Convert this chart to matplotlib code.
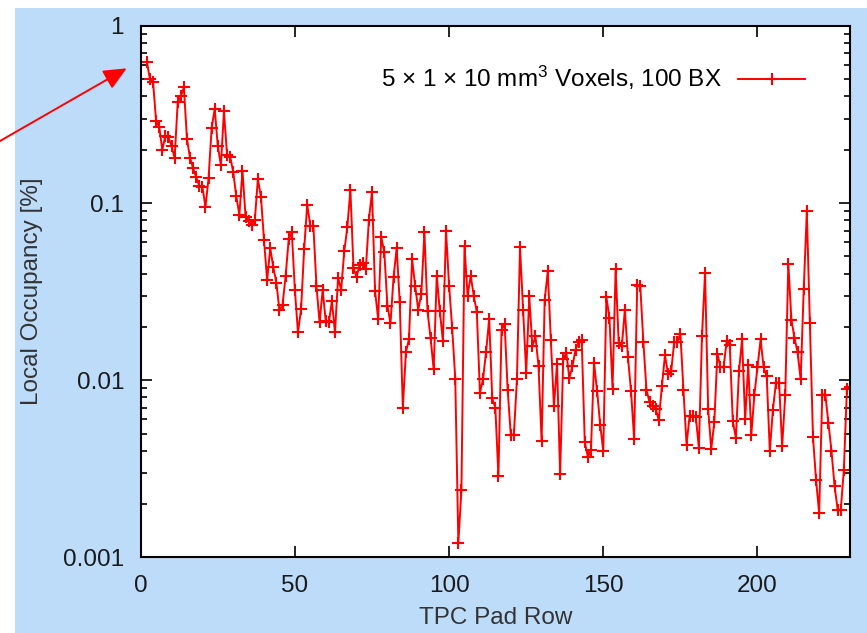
import numpy as np
import matplotlib
matplotlib.use("Agg")
import matplotlib.pyplot as plt
from matplotlib.ticker import FixedLocator, FixedFormatter, LogLocator, NullFormatter
from matplotlib.patches import Rectangle

# Local occupancy per TPC pad row (in %), pad rows 2 .. 230
occupancy = [
    0.63, 0.50, 0.485, 0.29, 0.27, 0.20, 0.24, 0.235, 0.21, 0.18,          # 2-11
    0.37, 0.40, 0.45, 0.23, 0.18, 0.157, 0.14, 0.125, 0.124, 0.095,        # 12-21
    0.138, 0.265, 0.34, 0.21, 0.164, 0.33, 0.187, 0.183, 0.15, 0.109,      # 22-31
    0.086, 0.152, 0.084, 0.079, 0.075, 0.080, 0.137, 0.108, 0.0615, 0.0366,  # 32-41
    0.0557, 0.0435, 0.0354, 0.0248, 0.0267, 0.0389, 0.0627, 0.0683, 0.0322, 0.0186,  # 42-51
    0.0252, 0.055, 0.098, 0.0745, 0.074, 0.0339, 0.0212, 0.0324, 0.0216, 0.0212,  # 52-61
    0.0279, 0.0186, 0.0378, 0.0324, 0.0533, 0.073, 0.119, 0.043, 0.0383, 0.0449,  # 62-71
    0.0459, 0.0425, 0.0805, 0.116, 0.0317, 0.0222, 0.0643, 0.0527, 0.0264, 0.021,  # 72-81
    0.0383, 0.0557, 0.0275, 0.00698, 0.0144, 0.0171, 0.0483, 0.0342, 0.025, 0.0308,  # 82-91
    0.0683, 0.0245, 0.0173, 0.0115, 0.0389, 0.0245, 0.0166, 0.070, 0.0342, 0.0197,  # 92-101
    0.0102, 0.00121, 0.00239, 0.0574, 0.030, 0.0389, 0.030, 0.0242, 0.0085, 0.0101,  # 102-111
    0.0145, 0.0222, 0.0079, 0.00698, 0.00287, 0.0191, 0.0209, 0.00877, 0.00493, 0.00493,  # 112-121
    0.0101, 0.0565, 0.025, 0.011, 0.0297, 0.0155, 0.0177, 0.012, 0.00452, 0.0285,  # 122-131
    0.0411, 0.0168, 0.00713, 0.0124, 0.00294, 0.0131, 0.0143, 0.0103, 0.012, 0.0149,  # 132-141
    0.0164, 0.0169, 0.00447, 0.00369, 0.00402, 0.0125, 0.00867, 0.0056, 0.00397, 0.0295,  # 142-151
    0.0225, 0.00893, 0.0425, 0.0162, 0.0155, 0.025, 0.0135, 0.00867, 0.00467, 0.0346,  # 152-161
    0.0339, 0.0164, 0.00885, 0.0075, 0.00713, 0.00689, 0.00594, 0.00924, 0.0138, 0.0109,  # 162-171
    0.0112, 0.0164, 0.0164, 0.0183, 0.00877, 0.00433, 0.0063, 0.0063, 0.0062, 0.00415,  # 172-181
    0.0177, 0.0403, 0.0069, 0.00409, 0.0058, 0.0141, 0.0119, 0.0118, 0.0166, 0.0159,  # 182-191
    0.00586, 0.00472, 0.0112, 0.017, 0.006, 0.0122, 0.00493, 0.0083, 0.0118, 0.017,  # 192-201
    0.0118, 0.0105, 0.00397, 0.00683, 0.0097, 0.0097, 0.00424, 0.0082, 0.0455, 0.022,  # 202-211
    0.0173, 0.0144, 0.0101, 0.0327, 0.0897, 0.021, 0.00478, 0.00272, 0.00178, 0.0083,  # 212-221
    0.0083, 0.00574, 0.00397, 0.00252, 0.00186, 0.00185, 0.0031, 0.0089, 0.0091,  # 222-230
]
first_row = 2
pad_rows = np.arange(first_row, first_row + len(occupancy))

x_ticks = [0, 50, 100, 150, 200]
y_ticks = [0.001, 0.01, 0.1, 1]
y_tick_labels = ["0.001", "0.01", "0.1", "1"]
legend_label = "5 \u00d7 1 \u00d7 10 mm$^{3}$ Voxels, 100 BX"

plt.rcParams["font.family"] = ["Liberation Sans", "DejaVu Sans"]
plt.rcParams["mathtext.fontset"] = "custom"
plt.rcParams["mathtext.rm"] = "Liberation Sans"
plt.rcParams["mathtext.it"] = "Liberation Sans:italic"
plt.rcParams["mathtext.bf"] = "Liberation Sans:bold"

FS = 17.5
W, H = 867, 633
fig = plt.figure(figsize=(W / 100, H / 100), dpi=100, facecolor="white")

# light-blue slide panel behind the plot
fig.patches.append(Rectangle((15 / W, 0), 1 - 15 / W, 1 - 8 / H,
                             transform=fig.transFigure, facecolor="#bddcfa",
                             edgecolor="none", zorder=-10))

ax = fig.add_axes([140.7 / W, 1 - 557.3 / H, (850 - 140.7) / W, (557.3 - 26) / H])
ax.set_facecolor("white")

ax.plot(pad_rows, occupancy, color="#ff0000", lw=1.4, marker="+",
        markersize=8, markeredgewidth=1.5, label=legend_label)

ax.set_yscale("log")
ax.set_xlim(0, 230)
ax.set_ylim(0.001, 1)

ax.xaxis.set_major_locator(FixedLocator(x_ticks))
ax.yaxis.set_major_locator(FixedLocator(y_ticks))
ax.yaxis.set_major_formatter(FixedFormatter(y_tick_labels))
ax.yaxis.set_minor_locator(LogLocator(base=10, subs=np.arange(2, 10)))
ax.yaxis.set_minor_formatter(NullFormatter())

ax.tick_params(which="both", direction="in", top=True, right=True,
               labelsize=FS, colors="black", width=1.2)
ax.tick_params(which="major", length=8, pad=12)
ax.tick_params(which="minor", length=4)
ax.tick_params(axis="x", pad=13)
ax.tick_params(axis="both", labelcolor="#1a1a1a")
for sp in ax.spines.values():
    sp.set_linewidth(1.5)

ax.set_xlabel("TPC Pad Row", fontsize=FS, color="#333333", labelpad=7)
ax.set_ylabel("Local Occupancy [%]", fontsize=FS, color="#333333", labelpad=14)

ax.legend(loc="center right", bbox_to_anchor=(0.937, 0.902), frameon=False,
          markerfirst=False, fontsize=FS, handlelength=2.75, handletextpad=0.7,
          borderpad=0, borderaxespad=0)

# pointer arrow towards the first pad row
ax.annotate("", xy=(126.7, H - 68.3), xycoords="figure pixels",
            xytext=(0, H - 141), textcoords="figure pixels",
            arrowprops=dict(arrowstyle="-|>,head_length=1.0,head_width=0.45",
                            color="#ff0000", lw=1.4, mutation_scale=14,
                            shrinkA=0, shrinkB=0),
            annotation_clip=False)

fig.savefig("out.png", dpi=100, facecolor=fig.get_facecolor())
